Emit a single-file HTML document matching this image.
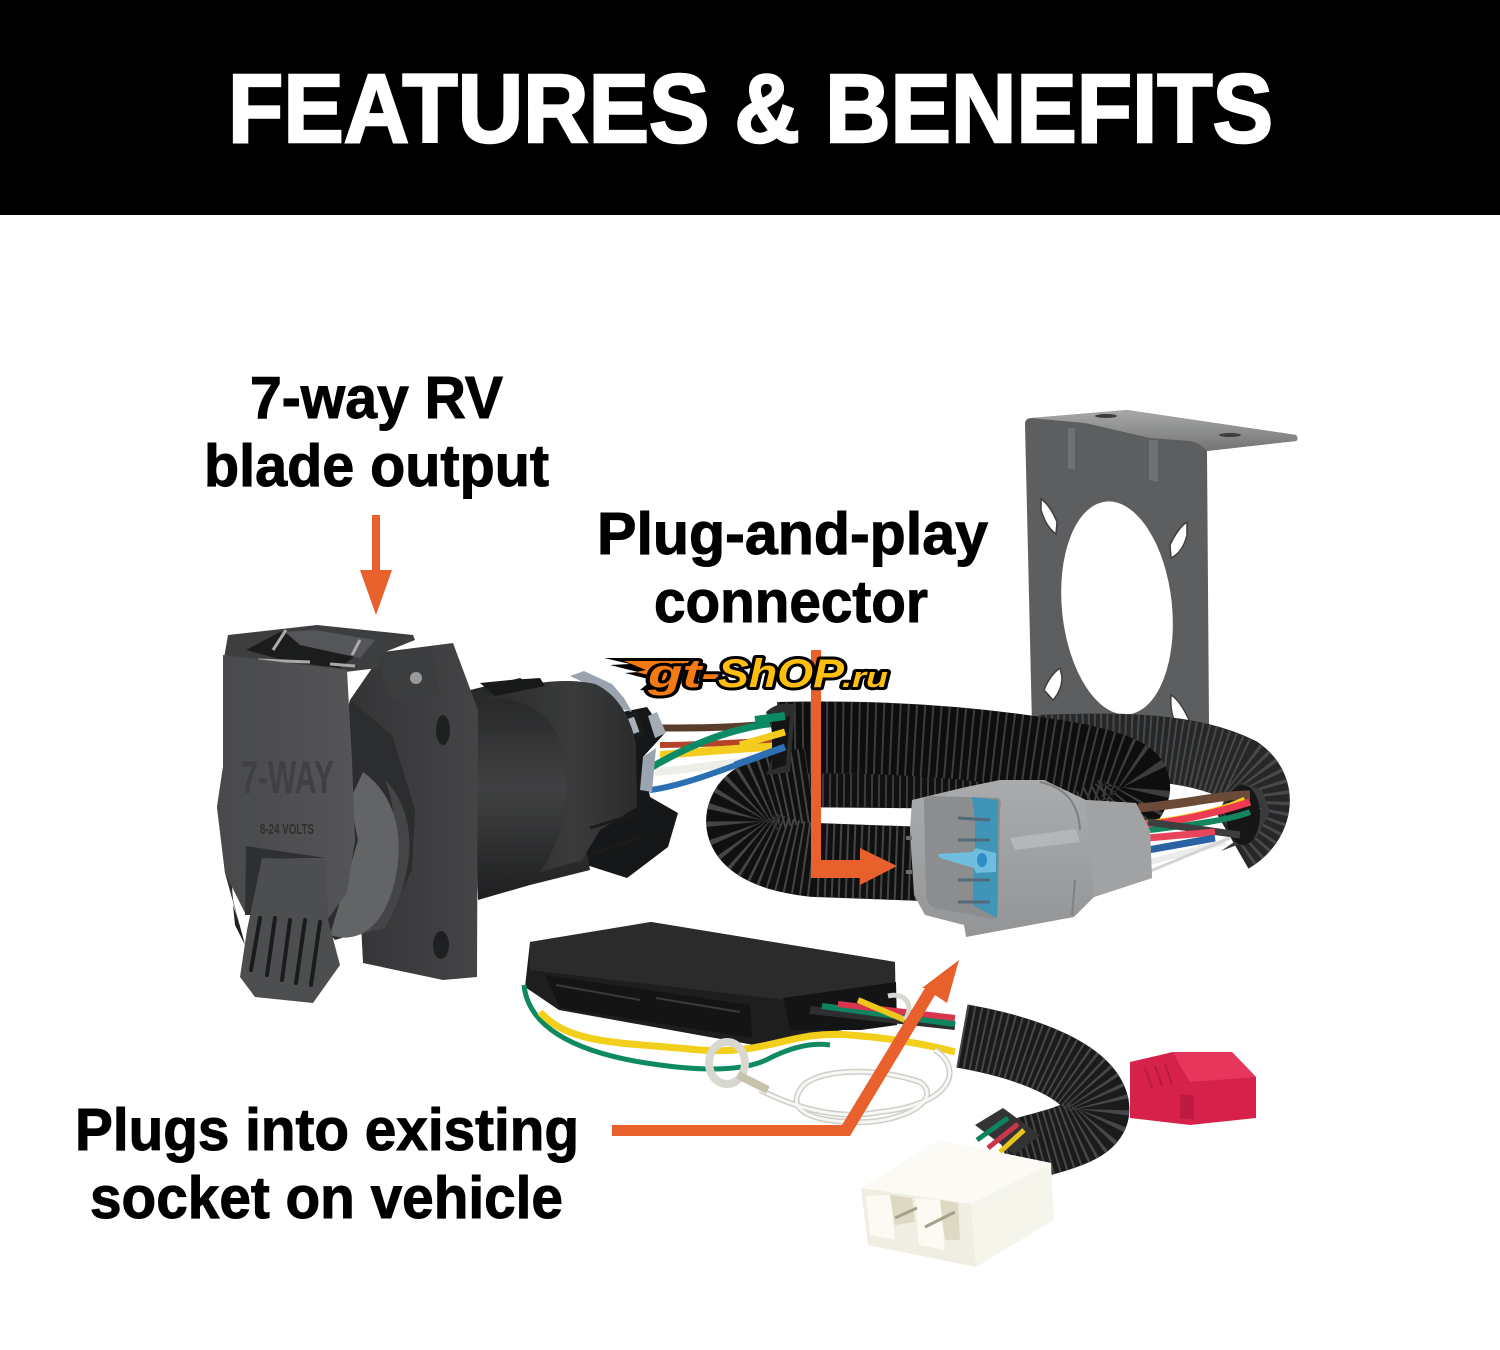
<!DOCTYPE html>
<html><head><meta charset="utf-8"><title>Features &amp; Benefits</title>
<style>html,body{margin:0;padding:0;background:#fff}svg{display:block}
text{font-family:"Liberation Sans",sans-serif;font-weight:bold}</style></head>
<body>
<svg xmlns="http://www.w3.org/2000/svg" width="1500" height="1350" viewBox="0 0 1500 1350">
<defs>
<linearGradient id="barrel" x1="0" y1="0" x2="0" y2="1"><stop offset="0" stop-color="#232425"/><stop offset=".5" stop-color="#404142"/><stop offset="1" stop-color="#1e1f20"/></linearGradient>
<linearGradient id="collar" x1="0" y1="0" x2="1" y2="0"><stop offset="0" stop-color="#2a2b2c"/><stop offset=".6" stop-color="#3a3b3c"/><stop offset="1" stop-color="#2b2c2d"/></linearGradient>
<linearGradient id="cover" x1="0" y1="0" x2="1" y2="0"><stop offset="0" stop-color="#48494b"/><stop offset="1" stop-color="#545557"/></linearGradient>
<linearGradient id="flange" x1="0" y1="0" x2="1" y2="0"><stop offset="0" stop-color="#333435"/><stop offset="1" stop-color="#444547"/></linearGradient>
<linearGradient id="bracketTop" x1="0" y1="0" x2="0" y2="1"><stop offset="0" stop-color="#a8a9a9"/><stop offset="1" stop-color="#737475"/></linearGradient>
<linearGradient id="gray" x1="0" y1="0" x2="0" y2="1"><stop offset="0" stop-color="#a9abad"/><stop offset="1" stop-color="#939597"/></linearGradient>
</defs>
<rect width="1500" height="1350" fill="#fff"/>
<rect width="1500" height="215" fill="#000"/>
<text x="228" y="142" font-size="97" fill="#fff" stroke="#fff" stroke-width="2.5" textLength="1045" lengthAdjust="spacingAndGlyphs">FEATURES &amp; BENEFITS</text>

<g fill="#000" stroke="#000" stroke-width="1" font-size="59">
<text x="250" y="418" textLength="253" lengthAdjust="spacingAndGlyphs">7-way RV</text>
<text x="204" y="486" textLength="345" lengthAdjust="spacingAndGlyphs">blade output</text>
<text x="597" y="554" textLength="391" lengthAdjust="spacingAndGlyphs">Plug-and-play</text>
<text x="654" y="622" textLength="274" lengthAdjust="spacingAndGlyphs">connector</text>
<text x="75" y="1150" textLength="504" lengthAdjust="spacingAndGlyphs">Plugs into existing</text>
<text x="90" y="1218" textLength="473" lengthAdjust="spacingAndGlyphs">socket on vehicle</text>
</g>

<!-- bracket -->
<path fill="#5c5e60" d="M1025 424Q1025 418 1032 418L1127 410L1296 435Q1299 439 1296 441L1207 451L1209 725L1032 725Z"/>
<path fill="url(#bracketTop)" d="M1030 418L1127 410L1296 435Q1299 439 1296 441L1207 451Q1200 443 1190 441L1150 438L1085 423Z"/>
<ellipse cx="1117" cy="608" rx="55" ry="107" transform="rotate(-6 1117 608)" fill="#fff"/>
<g fill="#fff" stroke="#3e3f41" stroke-width="1.5">
<path d="M1041 499Q1050 505 1057 522L1056 534Q1046 527 1041 510Z"/>
<path d="M1187 522Q1178 528 1170 545L1171 558Q1183 552 1187 535Z"/>
<path d="M1060 668Q1050 675 1044 690L1053 700Q1062 690 1062 677Z"/>
<path d="M1171 695Q1180 700 1190 722L1175 722Q1170 712 1171 695Z"/>
</g>
<path d="M1068 428L1075 428L1075 470L1068 468Z" fill="#6f7072"/>
<path d="M1149 440L1158 440L1158 482L1149 480Z" fill="#707173"/>
<ellipse cx="1106" cy="416" rx="11" ry="2" fill="#3b3c3d"/><ellipse cx="1230" cy="435" rx="11" ry="2" fill="#3b3c3d"/>

<!-- wires left of loom -->
<g fill="none" stroke-linecap="butt">
<path d="M660 728C700 728 740 728 785 722" stroke="#5a3c2c" stroke-width="7"/>
<path d="M660 745C700 745 740 742 785 740" stroke="#b5432a" stroke-width="6"/>
<path d="M660 755C700 752 740 748 785 746" stroke="#f4cb1f" stroke-width="8"/>
<path d="M655 772C690 770 740 760 785 758" stroke="#eeeee8" stroke-width="8"/>
<path d="M652 767C690 745 730 728 780 722" stroke="#0c8a64" stroke-width="7"/>
<path d="M650 790C690 785 740 762 785 748" stroke="#2c6fb2" stroke-width="6"/>
</g>

<!-- loom -->
<g fill="none" stroke-linecap="butt">
<path d="M1040 748C1120 745 1190 745 1240 770C1268 790 1258 825 1232 840" stroke="#262728" stroke-width="66"/>
<path d="M1040 748C1120 745 1190 745 1240 770C1268 790 1258 825 1232 840" stroke="#48494a" stroke-width="66" stroke-dasharray="2 4"/>
<!-- strand passing behind the upper run -->
<path d="M780 790L1000 792L1090 785" stroke="#111" stroke-width="34"/>
<path d="M780 790L1000 792L1090 785" stroke="#3c3c3d" stroke-width="34" stroke-dasharray="2 5"/>
<path d="M778 738C900 735 1000 745 1080 760C1130 772 1150 780 1120 810L1060 840" stroke="#0e0e0e" stroke-width="72"/>
<path d="M778 738C900 735 1000 745 1080 760C1130 772 1150 780 1120 810L1060 840" stroke="#3d3d3e" stroke-width="72" stroke-dasharray="2 6"/>
<path d="M925 864L815 860C765 855 738 838 744 815C750 795 775 790 810 785" stroke="#101010" stroke-width="74"/>
<path d="M925 864L815 860C765 855 738 838 744 815C750 795 775 790 810 785" stroke="#454546" stroke-width="74" stroke-dasharray="2 5"/>
</g>
<path d="M766 712Q780 700 795 705L790 772L766 775Q780 745 766 712Z" fill="#2d2e2f"/>
<path d="M772 720L790 716 L786 765L772 770Z" fill="#141414"/>
<path d="M755 720L785 716" stroke="#0c8a64" stroke-width="8"/>
<path d="M740 745L785 732" stroke="#f4cb1f" stroke-width="7"/>
<path d="M735 765L785 747" stroke="#2c6fb2" stroke-width="7"/>

<!-- right wires -->
<path d="M1221 851L1256 838L1270 812L1262 790L1240 782L1262 810L1240 838Z" fill="#3a3b3c"/>
<ellipse cx="1243" cy="815" rx="17" ry="30" fill="#161616"/>
<g fill="none">
<path d="M1138 808C1180 805 1220 795 1250 795" stroke="#6b4a37" stroke-width="9"/>
<path d="M1138 825C1180 820 1220 812 1245 800" stroke="#f3c91f" stroke-width="7"/>
<path d="M1145 825C1190 820 1225 810 1250 802" stroke="#ec3b52" stroke-width="7"/>
<path d="M1150 830C1190 825 1230 820 1250 812" stroke="#14855f" stroke-width="6"/>
<path d="M1148 822L1240 835" stroke="#3d3e3f" stroke-width="7"/>
<path d="M1148 838L1215 832" stroke="#e8445a" stroke-width="7"/>
<path d="M1148 850L1215 838" stroke="#2b62a3" stroke-width="7"/>
<path d="M1150 862L1225 842" stroke="#ececea" stroke-width="6"/>
<path d="M1148 872L1230 838" stroke="#d4d4d4" stroke-width="3"/>
</g>

<!-- gray plug -->
<path fill="url(#gray)" d="M912 800L966 787L1000 780L1044 780L1086 800L1136 803L1150 830L1152 878L1094 897L1074 917L966 937L964 925L925 915L914 895L910 830Z"/>
<path fill="#a0a2a4" d="M1086 800L1136 803L1150 830L1152 878L1094 897Z"/>
<path fill="#b4b6b8" d="M1010 838L1076 829L1080 842L1015 850Z"/>
<path fill="none" stroke="#7f8183" stroke-width="2" d="M1040 782Q1078 790 1080 830M1075 880L1072 915"/>
<path fill="#8b8d8f" d="M924 802Q922 797 932 796L998 798Q1002 800 1000 810L998 915Q996 921 988 918L934 908Q928 905 926 895Z"/>
<path fill="#3f94b7" d="M972 797L998 800L997 918L973 905L973 880L975 860L975 820Z"/>
<path fill="#6fbee0" d="M938 854L972 852L976 848L996 853L996 872L976 873L974 868L940 858Z"/>
<ellipse cx="982" cy="860" rx="5" ry="7" fill="#2c8ec4"/>
<g stroke="#536a78" stroke-width="3"><path d="M958 818L990 820M958 840L990 840M958 880L990 880M958 902L990 902"/></g>
<g fill="#6a6b6c"><rect x="906" y="836" width="6" height="4"/><rect x="906" y="870" width="6" height="4"/></g>

<!-- 7-way connector: rear parts -->
<path fill="#161718" d="M617 713L647 707L665 733L643 757L650 797L678 813L668 847L627 878L577 862L590 720Z"/>
<path fill="#9ba4ae" d="M570 676L584 671L612 684L624 698L632 712L618 708L600 690Z"/>
<path fill="#9ba4ae" d="M643 757L656 748L652 792L640 790Z"/>
<rect x="624" y="716" width="15" height="20" transform="rotate(-20 632 726)" fill="#a9b2bb" stroke="#1b1c1d" stroke-width="4"/>
<path fill="#a4adb6" d="M648 716L657 712L666 733L655 738Z"/>
<path fill="url(#barrel)" d="M470 690L520 678L560 700L590 870L530 885L478 900Z"/>
<path fill="url(#collar)" d="M483 700C510 685 560 676 595 684C618 694 632 720 636 745L637 807L600 830L582 860L540 872C570 830 575 770 555 730C540 705 510 695 483 700Z"/>
<path fill="#181919" d="M480 683L510 680L540 678L545 686L495 696Z"/>
<path d="M590 828L632 815M590 855L640 838" stroke="#1a1b1c" stroke-width="3"/>

<!-- flange -->
<path fill="url(#flange)" d="M383 652L453 643L478 710L477 977L443 980L363 963L350 700Z"/>
<ellipse cx="443" cy="730" rx="7" ry="15" fill="#1f2021"/>
<ellipse cx="441" cy="945" rx="8" ry="14" fill="#1f2021"/>
<path fill="#3c3d3e" d="M383 654L430 647L440 695L395 700L382 680Z"/>
<circle cx="416" cy="678" r="6" fill="#98999a"/>

<!-- top lid -->
<path fill="#3d3e40" d="M228 635L317 625L413 635L415 640L385 652L378 668L345 672L224 658Z"/>
<path fill="#1b1c1c" d="M246 650L280 632L360 652L340 668L290 662Z"/>
<path fill="#55565a" d="M285 632L315 630L375 640L360 658L300 645Z"/>
<path fill="none" stroke="#a9a9a9" stroke-width="3" d="M286 630L273 650M360 640L352 655M258 660L310 662M330 664L355 666"/>

<!-- bell -->
<path fill="#2c2d2e" d="M350 700L392 735L415 810L412 870L385 925L335 940L300 900Z"/>
<path fill="#444547" d="M385 780C415 810 420 865 385 928L345 938C395 900 405 830 385 780Z"/>
<path fill="#636466" d="M363 772C395 795 405 835 395 880C385 925 360 945 330 935L345 885L358 840L350 800Z"/>

<!-- cover -->
<path fill="#2f3031" d="M217 807L223 767L233 900L245 945L225 873Z"/>
<path fill="url(#cover)" d="M223 655L347 670L352 760L355 840L347 893L327 920L245 913L225 873L217 807L223 767Z"/>
<text x="241" y="793" font-size="46" fill="#3f4042" textLength="93" lengthAdjust="spacingAndGlyphs">7-WAY</text>
<text x="260" y="834" font-size="15" fill="#2e2f30" textLength="54" lengthAdjust="spacingAndGlyphs">8-24 VOLTS</text>
<path fill="#2f3031" d="M246 846L326 858L300 858L262 860L254 915L245 915Z"/>

<!-- thumb tab -->
<path fill="#4d4e50" d="M262 858L326 860L328 920L340 965L313 1003L255 997L240 977L247 930Z"/>
<g stroke="#1a1b1c" stroke-width="4" stroke-linecap="round"><path d="M260 918L251 970M275 918L267 975M290 920L282 980M305 920L296 983M320 922L311 985"/></g>
<path d="M233 905Q240 925 245 945L235 925Z" fill="#1f2020"/>

<!-- control module -->
<path fill="#1e1e1f" d="M530 942L651 922L895 962L896 1022L861 1027L754 1045L559 1010L525 987Z"/>
<path fill="#2b2b2c" d="M530 942L651 922L895 962L895 982L785 1000L530 970Z"/>
<path fill="#141414" d="M545 975L750 1005L752 1038L560 1008Z"/>
<path fill="#141414" d="M783 998L896 982L897 1025L861 1030L790 1030Z"/>
<path stroke="#3a3a3a" stroke-width="2" d="M556 985L640 1000M656 998L740 1012" fill="none"/>

<!-- small wires -->
<g fill="none">
<path d="M810 1010L955 1026" stroke="#2d2e2f" stroke-width="8"/>
<path d="M822 1006L955 1024" stroke="#0d8460" stroke-width="6"/>
<path d="M838 1004L955 1018" stroke="#d8354f" stroke-width="6"/>
<path d="M858 1000L905 1020" stroke="#efc71c" stroke-width="6"/>
<path d="M888 996C905 992 915 1005 905 1020" stroke="#d8d8d2" stroke-width="5"/>
<path d="M524 985C528 1025 570 1050 640 1062C700 1072 745 1072 770 1058C790 1048 810 1042 830 1045" stroke="#0e8a61" stroke-width="5"/>
<path d="M540 1012C570 1045 620 1042 700 1050C770 1055 790 1030 850 1035C890 1038 930 1045 955 1052" stroke="#f1cf1a" stroke-width="7"/>
<path id="w1" d="M760 1090C800 1110 840 1120 880 1112C950 1105 965 1070 935 1050" stroke="#cfcfc9" stroke-width="6"/>
<path d="M800 1090C810 1070 870 1065 920 1082C945 1100 900 1125 850 1122C800 1120 790 1105 800 1090Z" stroke="#cfcfc9" stroke-width="6"/>
<path d="M760 1090C800 1110 840 1120 880 1112C950 1105 965 1070 935 1050" stroke="#f7f7f3" stroke-width="3"/>
<path d="M800 1090C810 1070 870 1065 920 1082C945 1100 900 1125 850 1122C800 1120 790 1105 800 1090Z" stroke="#f7f7f3" stroke-width="3"/>
</g>
<ellipse cx="727" cy="1063" rx="18" ry="21" fill="none" stroke="#d9d8d0" stroke-width="8"/>
<path d="M738 1075L768 1090" stroke="#c6c2ac" stroke-width="8"/>

<!-- red plug -->
<path fill="#d6214b" d="M1130 1062L1173 1052L1232 1052L1256 1077L1256 1118L1190 1125L1130 1118Z"/>
<path fill="#e6365c" d="M1173 1052L1232 1052L1256 1077L1190 1082L1178 1062Z"/>
<path fill="#bf1a41" d="M1180 1095h14v24h-14z"/>
<path d="M1145 1068L1152 1088M1155 1066L1162 1086M1165 1064L1172 1084" stroke="#b51a40" stroke-width="2"/>

<!-- small loom -->
<g fill="none">
<path d="M962 1036C1030 1048 1090 1072 1097 1105C1102 1135 1050 1140 1005 1155" stroke="#1b1b1c" stroke-width="64"/>
<path d="M962 1036C1030 1048 1090 1072 1097 1105C1102 1135 1050 1140 1005 1155" stroke="#464748" stroke-width="64" stroke-dasharray="2 4.5"/>
</g>
<path d="M975 1125L1003 1108L1040 1135L1015 1155Z" fill="#333334"/>
<path d="M977 1140L1008 1118" stroke="#0d8460" stroke-width="5"/>
<path d="M988 1148L1018 1124" stroke="#c8364c" stroke-width="5"/>
<path d="M1000 1152L1024 1130" stroke="#e8c51c" stroke-width="5"/>

<!-- white plug -->
<path fill="#f6f5ec" d="M939 1140L1051 1163L1054 1220L976 1267L868 1245L861 1188Z"/>
<path fill="#fbfaf5" d="M861 1188L939 1140L1051 1163L971 1204Z"/>
<path fill="#f0eee2" d="M861 1188L971 1204L976 1267L868 1245Z"/>
<path fill="#fbfaf3" d="M866 1196L890 1195L895 1240L870 1235Z"/>
<path fill="#ddd9c4" d="M890 1195L912 1198L915 1222L895 1225Z"/>
<path fill="#fbfaf3" d="M915 1198L940 1200L945 1250L919 1245Z"/>
<path fill="#ddd9c4" d="M940 1200L958 1203L960 1240L945 1240Z"/>
<path d="M895 1218L917 1208M925 1227L955 1212" stroke="#a4a08a" stroke-width="3"/>

<!-- orange arrows -->
<g fill="#e8602c">
<rect x="372" y="515" width="8" height="58"/><path d="M360 570H392L376 615Z"/>
<path d="M811 650H821V860H860V848L897 866L860 885V878H811Z"/>
<path d="M612 1125H842L925 988L922 988L959 960L947 1003L935 995L850 1136H612Z"/>
</g>

<!-- watermark -->
<path d="M604 658L700 658L660 692L640 690L652 680L625 673L638 672L610 665L630 664Z" fill="#000"/>
<path d="M624 661L698 661L660 688L650 685L656 677L636 672L646 670Z" fill="#f47a12"/>
<g font-size="40" font-style="italic" stroke="#000" stroke-width="6" paint-order="stroke" stroke-linejoin="round">
<text x="648" y="687" fill="#f47a12" textLength="72" lengthAdjust="spacingAndGlyphs">gt-</text>
<text x="718" y="687" fill="#ffbe10" textLength="126" lengthAdjust="spacingAndGlyphs">ShOP</text>
<text x="842" y="687" fill="#ffbe10" font-size="29" textLength="46" lengthAdjust="spacingAndGlyphs">.ru</text>
</g>
</svg>
</body></html>
